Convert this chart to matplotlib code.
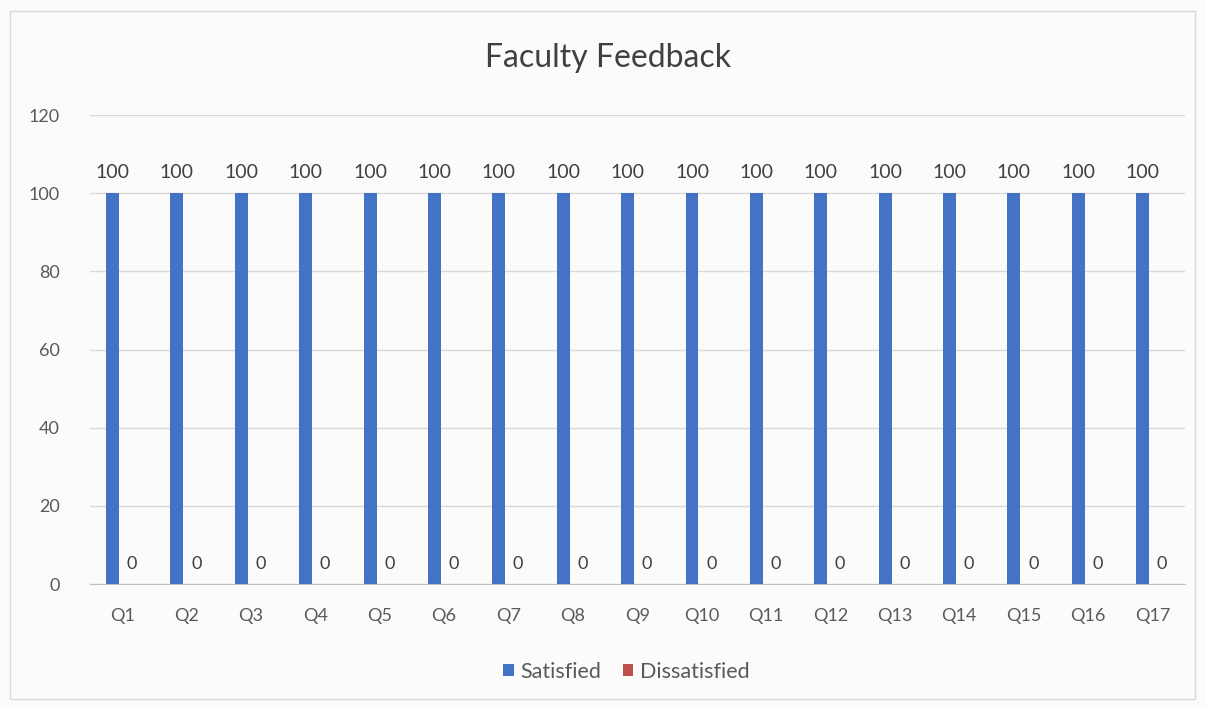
import matplotlib.pyplot as plt
import numpy as np

plt.rcParams['font.family'] = ['Lato', 'DejaVu Sans']

questions = [f"Q{i}" for i in range(1, 18)]
satisfied = [100] * 17
dissatisfied = [0] * 17

blue = "#4472C4"
red = "#C0504D"

fig = plt.figure(figsize=(12.05, 7.06), dpi=100)
fig.patch.set_facecolor("#fbfbfb")
ax = fig.add_axes([0.0747, 0.1728, 0.9083, 0.6642])
ax.set_facecolor("#fbfbfb")

x = np.arange(len(questions))
w = 0.2
b1 = ax.bar(x - 0.15, satisfied, w, color=blue, label="Satisfied", zorder=3)
b2 = ax.bar(x + 0.15, dissatisfied, w, color=red, label="Dissatisfied", zorder=3)

for rect, v in zip(b1, satisfied):
    ax.annotate(f"{v}", (rect.get_x() + rect.get_width() / 2, v),
                xytext=(0, 9), textcoords="offset points",
                ha="center", va="bottom", fontsize=14, color="#404040")
for rect, v in zip(b2, dissatisfied):
    ax.annotate(f"{v}", (rect.get_x() + rect.get_width() / 2, v),
                xytext=(0, 9), textcoords="offset points",
                ha="center", va="bottom", fontsize=13, color="#404040")

ax.set_ylim(0, 120)
ax.set_yticks(range(0, 121, 20))
ax.set_xlim(-0.5, len(questions) - 0.5)
ax.set_xticks(x)
ax.set_xticklabels(questions)
ax.tick_params(axis="both", length=0, labelsize=13, colors="#595959")
ax.tick_params(axis="x", pad=17)
ax.tick_params(axis="y", pad=22)
ax.yaxis.grid(True, color="#d9d9d9", linewidth=1, zorder=0)
for side in ["top", "right", "left"]:
    ax.spines[side].set_visible(False)
ax.spines["bottom"].set_color("#bfbfbf")

fig.text(0.505, 0.918, "Faculty Feedback", ha="center", va="center",
         fontsize=23, color="#404040")

ax.legend(loc="upper center", bbox_to_anchor=(0.49, -0.125), ncol=2,
          frameon=False, fontsize=15.5, handlelength=0.5, handleheight=0.5,
          columnspacing=1.0, handletextpad=0.3, labelcolor="#595959")

fig.add_artist(plt.Rectangle((0.008, 0.01), 0.984, 0.975, transform=fig.transFigure,
                             fill=False, edgecolor="#d9d9d9", linewidth=1))

fig.savefig("out.png", dpi=100, facecolor=fig.get_facecolor())
